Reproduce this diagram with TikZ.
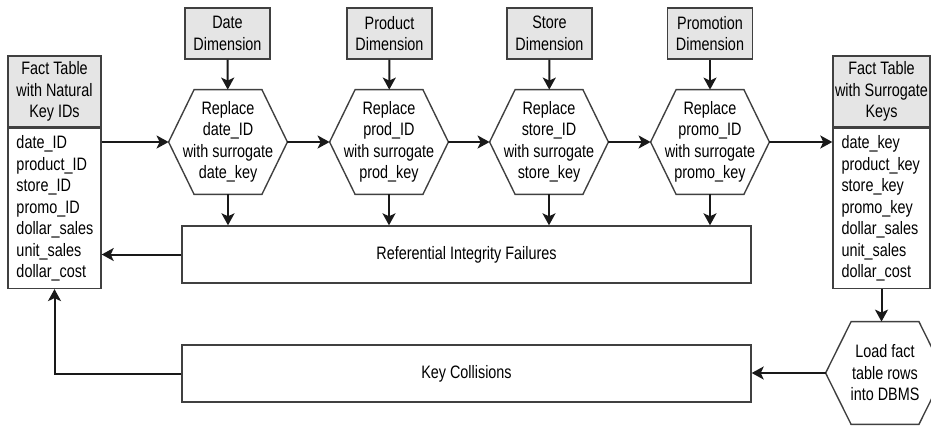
\documentclass[tikz,border=0pt]{standalone}
\usepackage{fontspec}
\setmainfont[FakeStretch=0.8]{Liberation Sans}
\usetikzlibrary{arrows.meta,positioning}

\begin{document}
\begin{tikzpicture}[
    x=0.5pt, y=-0.5pt,
    txt/.style={font=\fontsize{9pt}{10.75pt}\selectfont},
    edge/.style={draw=black!75, line width=0.7pt},
    dimbox/.style={txt, edge, fill=black!10, align=center, minimum width=42.5pt, minimum height=25.5pt, inner sep=1pt},
    hexa/.style={txt, align=center, minimum width=59pt, minimum height=52pt, inner sep=0pt},
    tblhead/.style={txt, edge, fill=black!10, align=center, minimum width=46.5pt, minimum height=35.5pt, inner sep=0pt},
    tblbody/.style={txt, edge, align=left, text width=38pt, minimum height=80pt, inner xsep=4.25pt, inner ysep=0pt},
    failbox/.style={txt, edge, minimum width=284.5pt, minimum height=28.5pt},
    arr/.style={-{Stealth[length=6pt,width=6.5pt,inset=1.5pt]}, line width=1pt, black!90}
  ]
    \useasboundingbox (0,0) rectangle (931,425);
    \clip (0,0) rectangle (931,425);

    % source fact table
    \node[tblhead] (natHead) at (54.5,91.5) {Fact Table\\with Natural\\Key IDs};
    \node[tblbody, below=0pt of natHead] (natBody) {date\_ID\\product\_ID\\store\_ID\\promo\_ID\\dollar\_sales\\unit\_sales\\dollar\_cost};

    % dimensions and key lookups
    \node[dimbox] (ddate) at (227.5,33.5) {Date\\Dimension};
    \node[dimbox] (dprod) at (389.5,33.5) {Product\\Dimension};
    \node[dimbox] (dstore) at (549.5,33.5) {Store\\Dimension};
    \node[dimbox] (dpromo) at (710,33.5) {Promotion\\Dimension};
    \node[hexa] (rdate) at (228,142) {Replace\\date\_ID\\with surrogate\\date\_key};
    \node[hexa] (rprod) at (389,142) {Replace\\prod\_ID\\with surrogate\\prod\_key};
    \node[hexa] (rstore) at (549,142) {Replace\\store\_ID\\with surrogate\\store\_key};
    \node[hexa] (rpromo) at (710,142) {Replace\\promo\_ID\\with surrogate\\promo\_key};

    \node[failbox] (refint) at (466.5,254.5) {Referential Integrity Failures};
    \node[failbox] (keycol) at (466.5,373.5) {Key Collisions};

    % target fact table
    \node[tblhead, minimum width=48.5pt] (surHead) at (881.5,91.5) {Fact Table\\with Surrogate\\Keys};
    \node[tblbody, text width=40pt, below=0pt of surHead] (surBody) {date\_key\\product\_key\\store\_key\\promo\_key\\dollar\_sales\\unit\_sales\\dollar\_cost};
    \node[hexa, minimum height=51pt] (load) at (885,373) {Load fact\\table rows\\into DBMS};

    % hexagon outlines
    \foreach \h in {rdate,rprod,rstore,rpromo,load}
      \draw[edge] (\h.west) -- ([xshift=12.75pt]\h.north west) -- ([xshift=-12.75pt]\h.north east)
        -- (\h.east) -- ([xshift=-12.75pt]\h.south east) -- ([xshift=12.75pt]\h.south west) -- cycle;

    \draw[arr] (natBody.east |- rdate.west) -- (rdate.west);
    \draw[arr] (rdate.east) -- (rprod.west);
    \draw[arr] (rprod.east) -- (rstore.west);
    \draw[arr] (rstore.east) -- (rpromo.west);
    \draw[arr] (rpromo.east) -- (rpromo.east -| surBody.west);
    \foreach \k in {date,prod,store,promo} {
      \draw[arr] (d\k) -- (r\k);
      \draw[arr] (r\k.south) -- (r\k.south |- refint.north);
    }
    \draw[arr] (refint.west) -- (refint.west -| natBody.east);
    \draw[arr] (surBody.south) -- (surBody.south |- load.north);
    \draw[arr] (load.west) -- (load.west -| keycol.east);
    \draw[arr] (keycol.west) -| (natBody.south);
  \end{tikzpicture}
\end{document}
